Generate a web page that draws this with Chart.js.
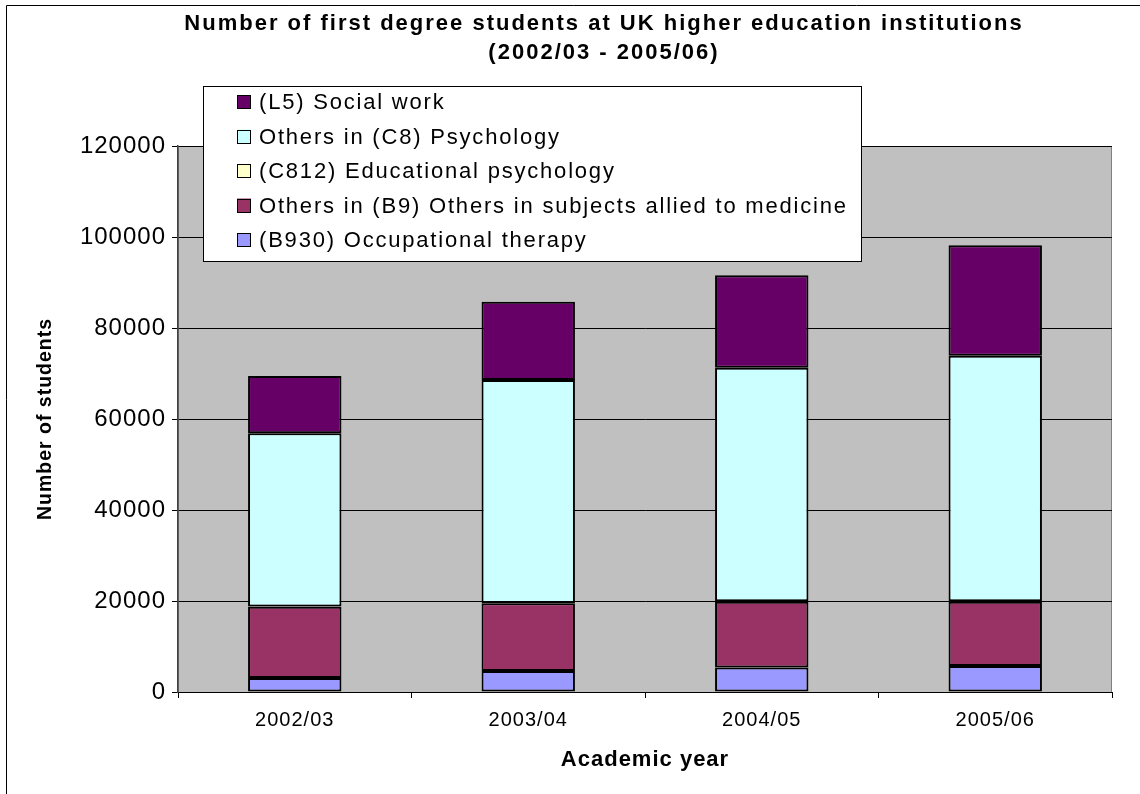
<!DOCTYPE html>
<html>
<head>
<meta charset="utf-8">
<title>First degree students at UK HE institutions</title>
<script src="https://cdn.jsdelivr.net/npm/chart.js@4.4.0/dist/chart.umd.min.js"></script>
<style>
  html, body { margin: 0; padding: 0; background: #fff; }
  #wrap { width: 1140px; height: 794px; }
</style>
</head>
<body>
<div id="wrap"><canvas id="studentsChart" width="1140" height="794"></canvas></div>
<script>
// Academic years and student counts per subject group (stacked bottom to top)
const years = ['2002/03', '2003/04', '2004/05', '2005/06'];
const occupationalTherapy = [3100, 4600, 5400, 5700];
const alliedToMedicine = [15650, 14900, 14450, 14150];
const educationalPsychology = [50, 70, 80, 90];
const otherPsychology = [38050, 49000, 51350, 53980];
const socialWork = [12580, 17210, 20300, 24260];

const yMin = 0;
const yMax = 120000;
const yStep = 20000;

const titleLines = [
    'Number of first degree students at UK higher education institutions',
    '(2002/03 - 2005/06)'
];

const FONT = "'Liberation Sans', Arial, sans-serif";

// Grey plot background, outer frame
const backdrop = {
    id: 'backdrop',
    beforeDraw(chart) {
        const ctx = chart.ctx;
        const a = chart.chartArea;
        ctx.save();
        ctx.fillStyle = '#ffffff';
        ctx.fillRect(0, 0, chart.width, chart.height);
        ctx.strokeStyle = '#000000';
        ctx.lineWidth = 1;
        ctx.beginPath();
        ctx.moveTo(6.5, chart.height);
        ctx.lineTo(6.5, 5.5);
        ctx.lineTo(chart.width, 5.5);
        ctx.stroke();
        ctx.fillStyle = '#c0c0c0';
        ctx.fillRect(a.left, a.top, a.right - a.left, a.bottom - a.top);
        ctx.strokeStyle = '#808080';
        ctx.strokeRect(a.left + 0.5, a.top + 0.5, a.right - a.left - 1, a.bottom - a.top);
        ctx.restore();
        // slightly loose spacing for axis text
        ctx.letterSpacing = '1px';
    }
};

// Title and boxed legend drawn on top
const overlay = {
    id: 'overlay',
    afterDraw(chart) {
        const ctx = chart.ctx;
        ctx.save();
        ctx.fillStyle = '#000000';
        ctx.textAlign = 'center';
        ctx.textBaseline = 'middle';
        ctx.letterSpacing = '2px';
        ctx.font = 'bold 22px ' + FONT;
        ctx.fillText(titleLines[0], 604, 24);
        ctx.fillText(titleLines[1], 604, 53);

        // legend box
        const box = { x: 203, y: 86, w: 658, h: 175 };
        ctx.fillStyle = '#ffffff';
        ctx.fillRect(box.x, box.y, box.w, box.h);
        ctx.strokeStyle = '#000000';
        ctx.lineWidth = 1;
        ctx.strokeRect(box.x + 0.5, box.y + 0.5, box.w, box.h);

        const items = chart.data.datasets.slice().reverse();
        ctx.font = '22px ' + FONT;
        ctx.letterSpacing = '1.8px';
        ctx.textAlign = 'left';
        items.forEach((ds, i) => {
            const cy = 102 + i * 34.5;
            ctx.fillStyle = ds.backgroundColor;
            ctx.fillRect(237, cy - 7, 14, 14);
            ctx.strokeStyle = '#000000';
            ctx.strokeRect(237.5, Math.round(cy - 7) + 0.5, 13, 13);
            ctx.fillStyle = '#000000';
            ctx.fillText(ds.label, 259, cy + 1);
        });
        ctx.restore();
    }
};

const barStyle = {
    borderColor: '#000000',
    borderWidth: 2,
    borderSkipped: false,
    barPercentage: 1,
    categoryPercentage: 0.4
};

const ctx = document.getElementById('studentsChart').getContext('2d');
const studentsChart = new Chart(ctx, {
    type: 'bar',
    data: {
        labels: years,
        datasets: [
            Object.assign({ label: '(B930) Occupational therapy', data: occupationalTherapy, backgroundColor: '#9999ff' }, barStyle),
            Object.assign({ label: 'Others in (B9) Others in subjects allied to medicine', data: alliedToMedicine, backgroundColor: '#993366' }, barStyle),
            Object.assign({ label: '(C812) Educational psychology', data: educationalPsychology, backgroundColor: '#ffffcc' }, barStyle),
            Object.assign({ label: 'Others in (C8) Psychology', data: otherPsychology, backgroundColor: '#ccffff' }, barStyle),
            Object.assign({ label: '(L5) Social work', data: socialWork, backgroundColor: '#660066' }, barStyle)
        ]
    },
    options: {
        responsive: false,
        animation: false,
        layout: {
            padding: { top: 146, right: 28, bottom: 0, left: 10 }
        },
        plugins: {
            legend: { display: false },
            title: { display: false },
            tooltip: { enabled: false }
        },
        scales: {
            x: {
                stacked: true,
                afterFit(scale) { scale.height = 102; },
                grid: {
                    drawOnChartArea: false,
                    drawTicks: true,
                    tickLength: 6,
                    color: '#000000',
                    offset: true
                },
                border: { display: true, color: '#000000', width: 1 },
                ticks: {
                    color: '#000000',
                    padding: 10,
                    font: { family: FONT, size: 20 }
                },
                title: {
                    display: true,
                    text: 'Academic year',
                    color: '#000000',
                    padding: { top: 0, bottom: 21 },
                    font: { family: FONT, size: 22, weight: 'bold' }
                }
            },
            y: {
                stacked: true,
                min: yMin,
                max: yMax,
                afterFit(scale) { scale.width = 168; },
                grid: {
                    drawTicks: true,
                    tickLength: 6,
                    color: '#000000',
                    lineWidth: 1
                },
                border: { display: true, color: '#404040', width: 1.5 },
                ticks: {
                    stepSize: yStep,
                    color: '#000000',
                    padding: 6,
                    font: { family: FONT, size: 24 },
                    callback: value => String(value)
                },
                title: {
                    display: true,
                    text: 'Number of students',
                    color: '#000000',
                    padding: { top: 24, bottom: 0 },
                    font: { family: FONT, size: 19.5, weight: 'bold' }
                }
            }
        }
    },
    plugins: [backdrop, overlay]
});
</script>
</body>
</html>
